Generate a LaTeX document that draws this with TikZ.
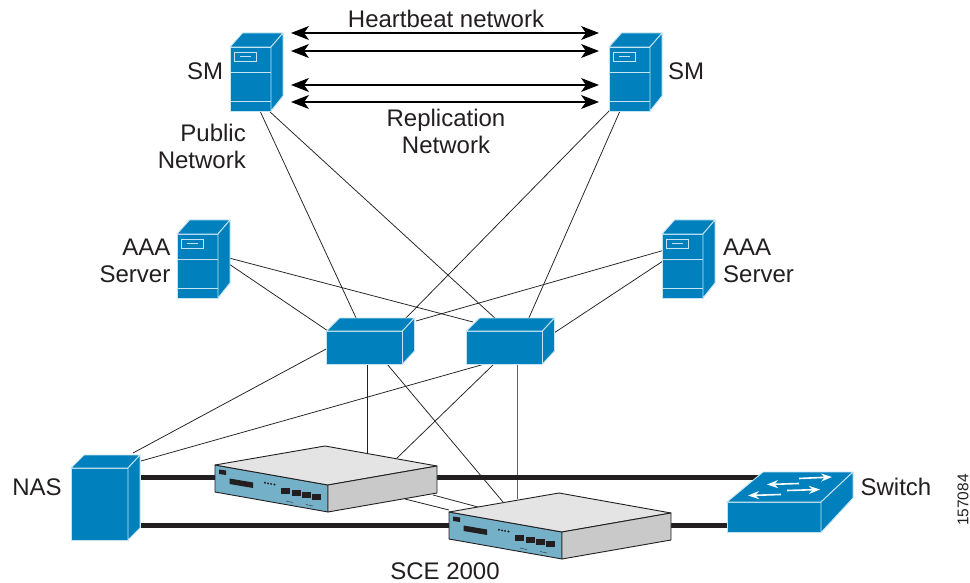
\documentclass[tikz,border=0pt]{standalone}
\usepackage{fontspec}
\setmainfont{Liberation Sans}
\usetikzlibrary{arrows.meta}
\definecolor{ciscoblue}{HTML}{0080BC}
\definecolor{edgeblue}{HTML}{C4E4F2}
\definecolor{tealface}{HTML}{74B0C8}
\definecolor{topgray}{HTML}{E4E4E4}
\definecolor{sidegray}{HTML}{C9C9C9}
\definecolor{inkdark}{HTML}{231F20}
\tikzset{
  bluepart/.style={fill=ciscoblue,draw=edgeblue,line width=0.9pt,line join=round},
  whiteline/.style={draw=edgeblue,line width=0.9pt},
  link/.style={draw=inkdark,line width=0.75pt},
  trunk/.style={draw=inkdark,line width=5pt},
  hb/.style={draw=black,line width=1.1pt,{Stealth[length=18pt,width=14pt,inset=5pt]}-{Stealth[length=18pt,width=14pt,inset=5pt]}},
  swarrow/.style={draw=white,line width=1.6pt,-{Stealth[length=11pt,width=8pt]}},
  lbl/.style={font=\fontsize{24}{27}\selectfont,inner sep=0pt,text=inkdark},
  scepart/.style={draw=inkdark,line width=0.9pt,line join=round},
  port/.style={fill=inkdark,draw=none},
}
% server: origin = top-left of front face
\newcommand{\devserver}[2]{%
  \begin{scope}[shift={(#1,#2)}]
    \path[bluepart] (0,0) -- (41,0) -- (41,64) -- (0,64) -- cycle;
    \path[bluepart] (0,0) -- (12.5,-14) -- (53,-14) -- (41,0) -- cycle;
    \path[bluepart] (41,0) -- (53,-14) -- (53,49) -- (41,64) -- cycle;
    \draw[whiteline] (0,25.5) -- (41,25.5) (0,54.5) -- (41,54.5);
    \draw[whiteline] (4.5,5.5) rectangle (26,14);
    \draw[whiteline] (10,9.8) -- (21,9.8);
  \end{scope}}
% box switch: origin = top-left of front face
\newcommand{\devbox}[2]{%
  \begin{scope}[shift={(#1,#2)}]
    \path[bluepart] (0,0) -- (76,0) -- (76,33) -- (0,33) -- cycle;
    \path[bluepart] (0,0) -- (13,-13) -- (88,-13) -- (76,0) -- cycle;
    \path[bluepart] (76,0) -- (88,-13) -- (88,20) -- (76,33) -- cycle;
  \end{scope}}
% SCE 2000: origin = left top corner
\newcommand{\devsce}[2]{%
  \begin{scope}[shift={(#1,#2)}]
    \path[fill=tealface,scepart] (0,0) -- (113,20) -- (113,47) -- (0,27) -- cycle;
    \path[fill=topgray,scepart] (0,0) -- (110,-19) -- (222,1) -- (113,20) -- cycle;
    \path[fill=sidegray,scepart] (113,20) -- (222,1) -- (222,28) -- (113,47) -- cycle;
    \fill[inkdark] (4,4.5) -- (11,5.5) -- (11,10) -- (4,9) -- cycle;
    \fill[inkdark] (14.5,13.5) -- (38,17.5) -- (38,23) -- (14.5,19) -- cycle;
    \foreach \px/\py in {50/17.8, 53/18.4, 56/18.9, 59.5/19.5}{\fill[inkdark] (\px,\py) circle (1.1);}
    \foreach \px/\py in {66/23, 76.5/25, 87/27, 97/29}{\fill[port] (\px,\py) rectangle ++(9,6);}
    \draw[inkdark,line width=0.35pt] (71,36) -- (78,37.5) (91,39.5) -- (98,41);
  \end{scope}}
\begin{document}
\begin{tikzpicture}[x=1pt,y=-1pt]
\useasboundingbox (0,0) rectangle (970,583);
\fill[white] (0,0) rectangle (970,583);
% connector end points
\coordinate (smL-a) at (260,111);
\coordinate (smL-b) at (269,111);
\coordinate (smR-a) at (610,110);
\coordinate (smR-b) at (620,111);
\coordinate (aaaL-a) at (229,258);
\coordinate (aaaL-b) at (229,264);
\coordinate (aaaR-a) at (663,250.5);
\coordinate (aaaR-b) at (663,261);
\coordinate (swA-a) at (357,320);
\coordinate (swA-b) at (404,320);
\coordinate (swA-c) at (328,331);
\coordinate (swA-d) at (328,348);
\coordinate (swA-e) at (416,321);
\coordinate (swA-f) at (367.5,364);
\coordinate (swA-g) at (387,364);
\coordinate (swB-a) at (497,320);
\coordinate (swB-b) at (528,320);
\coordinate (swB-c) at (473,322);
\coordinate (swB-d) at (554,333);
\coordinate (swB-e) at (483,364.5);
\coordinate (swB-f) at (494,364);
\coordinate (swB-g) at (517,364);
\coordinate (nas-a) at (133,453);
\coordinate (nas-b) at (141,461);
\coordinate (nas-c) at (141,477.5);
\coordinate (nas-d) at (141,525);
\coordinate (sceL-a) at (367.5,453);
\coordinate (sceL-b) at (397,458);
\coordinate (sceL-c) at (405,499);
\coordinate (sceL-d) at (433,495);
\coordinate (sceR-a) at (503,502);
\coordinate (sceR-b) at (517,499);
\coordinate (sceR-c) at (449,510);
\coordinate (sceR-d) at (478,507);
\coordinate (swX-a) at (760,477.5);
\coordinate (swX-b) at (727,525);
% heartbeat and replication arrows
\foreach \n/\y in {a/33,b/51,c/85,d/102}{
  \coordinate (hbL\n) at (291,\y);
  \coordinate (hbR\n) at (599,\y);
  \draw[hb] (hbL\n) -- (hbR\n);
}
% links
\draw[link] (smL-a) -- (swA-a);
\draw[link] (smL-b) -- (swB-a);
\draw[link] (smR-a) -- (swA-b);
\draw[link] (smR-b) -- (swB-b);
\draw[link] (aaaL-a) -- (swB-c);
\draw[link] (aaaL-b) -- (swA-c);
\draw[link] (aaaR-a) -- (swA-e);
\draw[link] (aaaR-b) -- (swB-d);
\draw[link] (nas-a) -- (swA-d);
\draw[link] (nas-b) -- (swB-e);
\draw[link] (swA-f) -- (sceL-a);
\draw[link] (swA-g) -- (sceR-a);
\draw[link] (swB-f) -- (sceL-b);
\draw[link,line width=1pt,draw=inkdark!70] (swB-g) -- (sceR-b);
\draw[link] (sceL-c) -- (sceR-c);
\draw[link] (sceL-d) -- (sceR-d);
\draw[trunk] (nas-c) -- (swX-a);
\draw[trunk] (nas-d) -- (swX-b);
% devices
\devserver{230}{47}
\devserver{609}{47}
\devserver{177}{234}
\devserver{662}{234}
\devbox{326.5}{331}
\devbox{466.5}{331}
% NAS
\path[bluepart] (71,468) -- (128,468) -- (128,540) -- (71,540) -- cycle;
\path[bluepart] (71,468) -- (84,455) -- (140,455) -- (128,468) -- cycle;
\path[bluepart] (128,468) -- (140,455) -- (140,528) -- (128,540) -- cycle;
% Switch
\path[bluepart] (727,502) -- (821,502) -- (821,532.5) -- (727,532.5) -- cycle;
\path[bluepart] (727,502) -- (763,472) -- (853,472) -- (821,502) -- cycle;
\path[bluepart] (821,502) -- (853,472) -- (853,498) -- (821,532.5) -- cycle;
\draw[swarrow] (799,478.5) -- (832,477);
\draw[swarrow] (799,483.5) -- (767,484.5);
\draw[swarrow] (787,490.5) -- (820,489.5);
\draw[swarrow] (781,494.5) -- (748,495.5);
% SCE
\devsce{215}{465}
\devsce{449}{512}
% labels
\node[lbl] (t-hb) at (446,19) {Heartbeat network};
\node[lbl,align=center] (t-rep) at (446,131.5) {Replication\\Network};
\node[lbl] (t-smL) at (205,71.5) {SM};
\node[lbl] (t-smR) at (686,71.5) {SM};
\node[lbl,align=right,anchor=east] (t-pub) at (246,146.5) {Public\\Network};
\node[lbl,align=right,anchor=east] (t-aaaL) at (170.5,261) {AAA\\Server};
\node[lbl,align=left,anchor=west] (t-aaaR) at (723,261) {AAA\\Server};
\node[lbl] (t-nas) at (37,487) {NAS};
\node[lbl] (t-sw) at (896,487) {Switch};
\node[lbl] (t-sce) at (445,571) {SCE 2000};
\node[inner sep=0pt,rotate=90,font=\fontsize{15.5}{18}\selectfont,text=inkdark] (t-num) at (963,500) {157084};
\end{tikzpicture}
\end{document}
